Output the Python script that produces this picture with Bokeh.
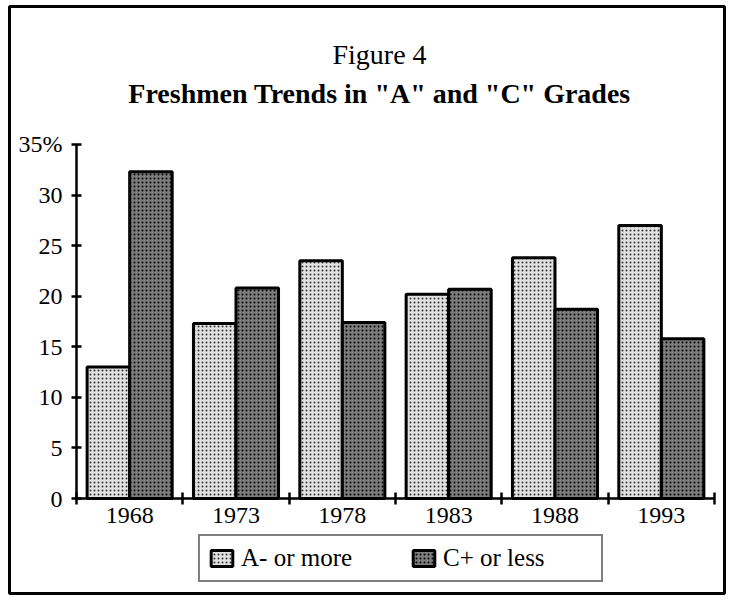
from bokeh.plotting import figure
from bokeh.models import (FixedTicker, Legend, LegendItem, Range1d, ColumnDataSource,
                          LinearAxis, Label)
from bokeh.embed import file_html
from bokeh.resources import INLINE

years = ["1968", "1973", "1978", "1983", "1988", "1993"]
a_or_more = [13.0, 17.3, 23.5, 20.2, 23.8, 27.0]
c_or_less = [32.3, 20.8, 17.4, 20.7, 18.7, 15.8]
y_ticks = [0, 5, 10, 15, 20, 25, 30, 35]
series_names = ["A- or more", "C+ or less"]
title_top = "Figure 4"
title_main = 'Freshmen Trends in "A" and "C" Grades'

FONT = "Liberation Serif"

n = len(years)
idx = list(range(n))
src = ColumnDataSource(dict(
    xa=[i + 0.30 for i in idx],
    xc=[i + 0.70 for i in idx],
    a=a_or_more,
    c=c_or_less,
))

# The frame fills the whole box (its outline is the outer border); axes are drawn
# at fixed locations inside it.
p = figure(width=730, height=596, output_backend="svg", toolbar_location=None,
           x_range=Range1d(-0.63, n + 0.094), y_range=Range1d(-9.39, 48.64),
           x_axis_location=None, y_axis_location=None,
           min_border_left=9, min_border_right=6, min_border_top=6, min_border_bottom=3)
p.grid.visible = False
p.outline_line_color = "black"
p.outline_line_width = 3

ra = p.vbar(x="xa", top="a", width=0.40, source=src, fill_color="#e2e2e2",
            line_color="black", line_width=3,
            hatch_pattern="dot", hatch_color="#333333", hatch_scale=4, hatch_weight=1.4)
rc = p.vbar(x="xc", top="c", width=0.40, source=src, fill_color="#7c7c7c",
            line_color="black", line_width=3,
            hatch_pattern="dot", hatch_color="#000000", hatch_scale=4, hatch_weight=1.8)

xa = LinearAxis(fixed_location=0, bounds=(0, n))
xa.ticker = FixedTicker(ticks=[i + 0.5 for i in idx], minor_ticks=list(range(0, n + 1)))
xa.major_label_overrides = {i + 0.5: y for i, y in zip(idx, years)}
xa.major_tick_in = 0
xa.major_tick_out = 0
xa.minor_tick_in = 6
xa.minor_tick_out = 6
xa.minor_tick_line_width = 2.5
xa.minor_tick_line_color = "black"
xa.axis_line_width = 2.5
xa.axis_line_color = "black"
xa.major_label_text_font = FONT
xa.major_label_text_font_size = "24px"
xa.major_label_text_color = "black"
xa.major_label_standoff = 3
p.add_layout(xa, "below")

ya = LinearAxis(fixed_location=0, bounds=(0, 35))
ya.ticker = FixedTicker(ticks=y_ticks, minor_ticks=[])
ya.major_label_overrides = {35: "35%"}
ya.major_tick_in = 5
ya.major_tick_out = 5
ya.major_tick_line_width = 2.5
ya.major_tick_line_color = "black"
ya.axis_line_width = 2.5
ya.axis_line_color = "black"
ya.major_label_text_font = FONT
ya.major_label_text_font_size = "24px"
ya.major_label_text_color = "black"
ya.major_label_standoff = 9
p.add_layout(ya, "left")

legend = Legend(items=[LegendItem(label=series_names[0], renderers=[ra]),
                       LegendItem(label=series_names[1], renderers=[rc])],
                orientation="horizontal", location=(189, 11),
                label_text_font=FONT, label_text_font_size="25px", label_text_color="black",
                glyph_width=27, glyph_height=20, spacing=19, padding=8, margin=0,
                label_width=150, label_standoff=6, label_height=28,
                border_line_color="black", border_line_width=2.5,
                background_fill_color="white", background_fill_alpha=1)
p.add_layout(legend, "center")

p.add_layout(Label(x=2.85, y=43.9, text=title_top, text_align="center",
                   text_baseline="alphabetic", text_font=FONT, text_font_size="28px",
                   text_color="black"))
p.add_layout(Label(x=2.85, y=40.05, text=title_main, text_align="center",
                   text_baseline="alphabetic", text_font=FONT, text_font_size="28px",
                   text_font_style="bold", text_color="black"))

open("out.html", "w").write(file_html(p, INLINE))
